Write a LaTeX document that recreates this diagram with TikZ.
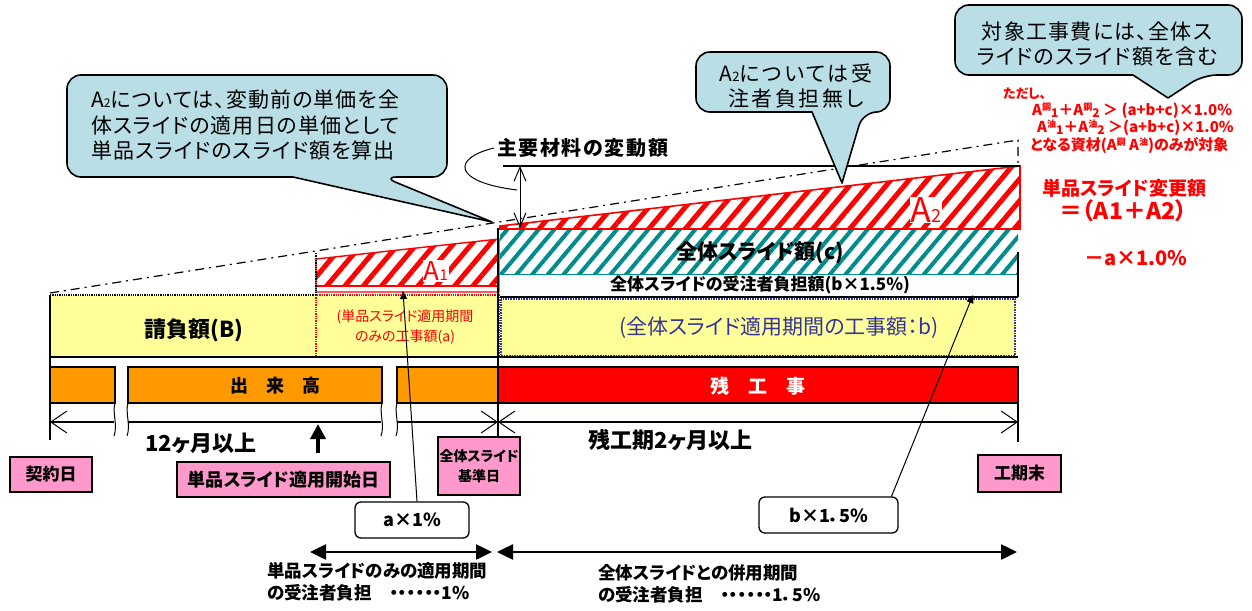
\documentclass[tikz,border=0pt]{standalone}
\usepackage{fontspec}
\setmainfont{Noto Sans CJK JP}[RawFeature=+palt]
\usetikzlibrary{arrows.meta,patterns.meta}
\definecolor{cfill}{RGB}{185,222,230}
\definecolor{yel}{RGB}{255,255,153}
\definecolor{org}{RGB}{255,153,0}
\definecolor{pnk}{RGB}{255,153,204}
\definecolor{tealh}{RGB}{0,140,140}
\definecolor{bluet}{RGB}{51,51,153}
\newcommand\fsz[1]{\fontsize{#1}{#1}\selectfont}
\newcommand\fszb[2]{\fontsize{#1}{#2}\selectfont}
\newcommand\lsp[1]{\addfontfeature{LetterSpace=#1}}
\newcommand\Asup[2]{A\raisebox{5pt}{\fsz{9}#1}\raisebox{-2pt}{\fsz{12}#2}}
\begin{document}
\begin{tikzpicture}[x=1pt,y=-1pt,
  every node/.style={inner sep=0pt},
  callout/.style={draw=black, fill=cfill, line width=1.6pt, line join=round},
  pinkbox/.style={draw=black, fill=pnk, line width=1.3pt},
  wbox/.style={draw=black, fill=white, line width=1.3pt, rounded corners=6pt},
  bar/.style={draw=black, line width=1.2pt},
  dimline/.style={line width=1.1pt},
  barb/.tip={Straight Barb[length=16pt,width=22pt,line width=1pt]},
  big/.tip={Triangle[length=16pt,width=15pt]},
  redhatch/.style={pattern={Lines[angle=50,distance=14pt,line width=5pt]}, pattern color=red},
  tealhatch/.style={pattern={Lines[angle=50,distance=12pt,line width=4pt]}, pattern color=tealh},
  envelope/.style={line width=1.2pt, dash pattern=on 9pt off 5pt on 2pt off 5pt},
]
\useasboundingbox (0,0) rectangle (1252,610);

% ---------- yellow bands ----------
\fill[yel] (50,295) rectangle (316,357);
\draw[red, densely dotted, line width=1.3pt, fill=yel] (316,295) rectangle (499,357);
\draw[bluet, densely dotted, line width=1.6pt, fill=yel] (501,299) rectangle (1015,356);
\draw[line width=1.2pt] (50,357) -- (1018,357);
\draw[line width=1.2pt] (500,297) -- (1018,297);
\draw[densely dotted, line width=1.3pt] (50,295) -- (316,295);

% ---------- teal hatched (c) ----------
\fill[tealhatch] (500,230) rectangle (1018,274);
\draw[tealh, line width=0.8pt] (500,274) -- (1018,274);
\draw[line width=1.2pt] (1018,252) -- (1018,297);

% ---------- A2 ----------
\fill[redhatch] (500,229) -- (500,226) -- (1020,166) -- (1020,229) -- cycle;
\draw[red, line width=1.6pt] (500,229) -- (500,226) -- (1020,166) -- (1020,229) -- cycle;

% ---------- A1 ----------
\fill[redhatch] (316,286) -- (316,259) -- (499,239) -- (499,286) -- cycle;
\draw[red, line width=1.4pt] (316,292) -- (316,259) -- (499,239) -- (499,292) -- cycle;
\draw[red, line width=1.2pt] (316,286) -- (499,286);

% ---------- envelope ----------
\draw[envelope] (50,293) -- (1018,140) -- (1018,166);
\draw[densely dotted, line width=1.3pt] (316,253) -- (316,295);
\draw[line width=1.3pt] (503,166) -- (1020,166);

% ---------- bars ----------
\draw[bar, fill=org] (50,367) rectangle (115,403);
\draw[bar, fill=org] (128,367) rectangle (382,403);
\draw[bar, fill=org] (397,367) rectangle (498,403);
\draw[bar, fill=red] (498,367) rectangle (1018,403);
\node[font=\bfseries\fsz{18}] (deki) at (275,386) {出　来　高};
\node[font=\bfseries\fsz{19}, text=white] (zan) at (758,386) {残　工　事};

% ---------- verticals ----------
\draw[line width=1.2pt] (50,295) -- (50,440);
\draw[line width=1.3pt] (498,228) -- (498,437);
\draw[line width=1.2pt] (1018,403) -- (1018,442);

% ---------- dimension line ----------
\draw[dimline, {barb}-] (50,422) -- (114,422);
\draw[dimline] (128,422) -- (381,422);
\draw[dimline, -{barb}] (397,422) -- (498,422);
\draw[dimline, {barb}-{barb}] (498,422) -- (1018,422);
\foreach \x in {115,128,382,397}
  \draw[line width=1pt] (\x,403) .. controls (\x-3,413) and (\x+3,425) .. (\x-1,436);

% ---------- band texts ----------
\node[font=\bfseries\fsz{22}] (ukeoi) at (194,330) {請負額(B)};
\node[text=red, align=center, font=\fszb{14}{20}] (atext) at (405,327) {(単品スライド適用期間\\のみの工事額(a)};
\node[text=bluet, font=\fsz{21}] (btext) at (779,328) {(全体スライド適用期間の工事額：b)};
\node[font=\bfseries\fsz{21}] (ctext) at (760,253) {全体スライド額(c)};
\node[font=\bfseries\fsz{17}] (bfut) at (760,285) {全体スライドの受注者負担額(b×1.5\%)};
\node[text=red, font=\fsz{26}, fill=white, inner sep=1pt] (A1) at (436,271) {A{\fsz{15}1}};
\node[text=red, font=\fsz{34}, fill=white, inner sep=1pt] (A2) at (926,210) {A{\fsz{18}2}};

% ---------- main material change ----------
\node[font=\bfseries\fsz{20}\lsp{8}, anchor=west] (hdr) at (497,148) {主要材料の変動額};
\draw[line width=1pt] ([xshift=-3pt]hdr.west) .. controls (452,158) and (452,182) .. (517,190);
\coordinate (vt) at (520,166);
\coordinate (vb) at (520,228);
\draw[line width=1pt, {Straight Barb[length=14pt,width=12pt]}-{Straight Barb[length=14pt,width=12pt]}] (vt) -- (vb);

% ---------- dates ----------
\node[font=\bfseries\fsz{22}] (m12) at (201,443) {12ヶ月以上};
\node[font=\bfseries\fsz{22}, anchor=west] (m2) at (588,440) {残工期2ヶ月以上};
\coordinate (upb) at (318,453);
\coordinate (upt) at (318,424);
\draw[line width=3.5pt, -{Triangle[length=15pt,width=15pt]}] (upb) -- (upt);

\node[pinkbox, minimum width=82pt, minimum height=35pt, font=\bfseries\fsz{17}] (kei) at (51,474.5) {契約日};
\node[pinkbox, minimum width=213pt, minimum height=35pt, font=\bfseries\fsz{18}] (tanst) at (283.5,479.5) {単品スライド適用開始日};
\node[pinkbox, minimum width=82pt, minimum height=58pt, align=center, font=\bfseries\fszb{14}{20}] (kijun) at (479,466) {全体スライド\\基準日};
\node[pinkbox, minimum width=83pt, minimum height=37pt, font=\bfseries\fsz{17}] (kouki) at (1019.5,473.5) {工期末};

% ---------- burden boxes ----------
\node[wbox, minimum width=114pt, minimum height=36pt, font=\bfseries\fsz{18}] (ax) at (412,520) {a×1\%};
\node[wbox, minimum width=139pt, minimum height=36pt, font=\bfseries\fsz{18}] (bx) at (828.5,515) {b×1．5\%};
\coordinate (atip) at (403,291);
\coordinate (btip) at (973,295);
\draw[line width=1pt, -{Triangle[length=8pt,width=7pt]}] ([xshift=5pt]ax.north) -- (atip);
\draw[line width=1pt, -{Triangle[length=8pt,width=7pt]}] ([xshift=63pt]bx.north) -- (btip);

% ---------- bottom periods ----------
\coordinate (p1l) at (310,552);
\coordinate (p1r) at (492,552);
\coordinate (p2l) at (497,552);
\coordinate (p2r) at (1017,552);
\draw[line width=2.5pt, {big}-{big}] (p1l) -- (p1r);
\draw[line width=2.5pt, {big}-{big}] (p2l) -- (p2r);
\node[anchor=north west, align=left, font=\bfseries\fszb{17.5}{22}] (per1) at (267,562) {単品スライドのみの適用期間\\の受注者負担　・・・・・・1\%};
\node[anchor=north west, align=left, font=\bfseries\fszb{17.5}{22}] (per2) at (598,564) {全体スライドとの併用期間\\の受注者負担　・・・・・・1．5\%};

% ---------- callouts ----------
\draw[callout] [rounded corners=14pt] (67,75) -- (447,75) -- (447,177) -- (383,177) [sharp corners] -- (492,222) -- (293,177) [rounded corners=14pt] -- (67,177) -- cycle;
\node[anchor=north west, align=left, font=\fszb{21}{25.5}\lsp{5}] (c1) at (91,90) {A{\fsz{12}2}については、変動前の単価を全\\体スライドの適用日の単価として\\単品スライドのスライド額を算出};

\draw[callout] [rounded corners=14pt] (696,52) -- (890,52) -- (890,112) -- (863,112) [sharp corners] -- (842,183) -- (812,112) [rounded corners=14pt] -- (696,112) -- cycle;
\node[align=center, font=\fszb{21}{25}\lsp{12}] (c2) at (796,86) {A{\fsz{13}2}については受\\注者負担無し};

\draw[callout] [rounded corners=14pt] (955,5) -- (1242,5) -- (1242,75) -- (1203,75) [sharp corners] -- (1168,98) -- (1133,75) [rounded corners=14pt] -- (955,75) -- cycle;
\node[align=center, font=\fszb{21}{25}\lsp{6}] (c3) at (1097,44) {対象工事費には、全体ス\\ライドのスライド額を含む};

% ---------- red notes ----------
\node[text=red, font=\bfseries\fsz{13}, anchor=west] (n0) at (1003,94) {ただし、};
\node[text=red, font=\bfseries\fsz{15}, anchor=west] (n1) at (1032,111) {\Asup{鋼}{1}＋\Asup{鋼}{2} ＞ (a+b+c)×1.0\%};
\node[text=red, font=\bfseries\fsz{15}, anchor=west] (n2) at (1037,128) {\Asup{油}{1}＋\Asup{油}{2} ＞(a+b+c)×1.0\%};
\node[text=red, font=\bfseries\fsz{15}, anchor=west] (n3) at (1030,145) {となる資材(A\raisebox{5pt}{\fsz{9}鋼} A\raisebox{5pt}{\fsz{9}油})のみが対象};
\node[text=red, font=\bfseries\fsz{19}] (h1) at (1124,188) {単品スライド変更額};
\node[text=red, font=\bfseries\fsz{23}] (h2) at (1123,211) {＝（A1＋A2）};
\node[text=red, font=\bfseries\fsz{20}] (h3) at (1136,258) {－a×1.0\%};
\end{tikzpicture}
\end{document}
